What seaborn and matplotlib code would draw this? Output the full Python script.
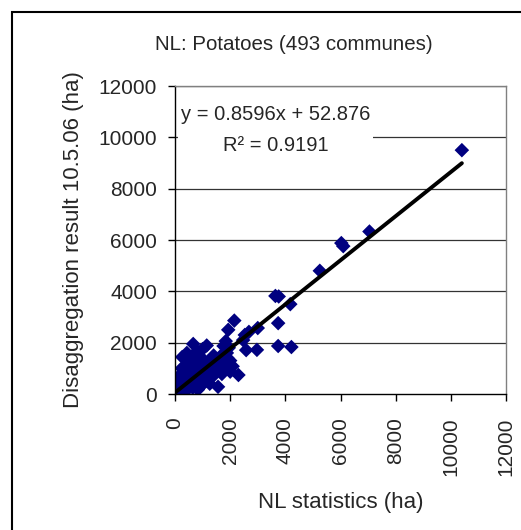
import numpy as np
import pandas as pd
import matplotlib
matplotlib.use("Agg")
import matplotlib.pyplot as plt
import seaborn as sns
from matplotlib.patches import Rectangle

# NL statistics (ha) vs disaggregation result (ha)
stat_ha = [
    10400, 7050, 6030, 6100, 5250, 3640, 3760, 4180, 3740, 3740, 4220,
    2150, 1930, 2680, 3000, 2530, 2470, 2580, 2970, 2090, 1560, 1150,
    660, 1760, 1840, 1880, 1630, 1400, 430, 260, 480, 1050, 1020, 900,
    650, 830, 180, 2300, 2000, 960, 600, 240, 120, 0,
    10, 20, 30, 40, 50, 60, 70, 80, 90, 100, 110, 120, 130, 140, 150,
    160, 170, 180, 190, 200, 210, 220, 230, 240, 250, 260, 270, 280,
    290, 300, 310, 320, 340, 350, 360, 380, 400, 410, 420, 440, 450,
    460, 480, 500, 520, 530, 550, 560, 580, 600, 620, 640, 650, 670,
    700, 720, 740, 760, 780, 800, 820, 850, 870, 900, 920, 950, 980,
    1000, 1030, 1060, 1100, 1120, 1150, 1180, 1200, 1230, 1260, 1300,
    1340, 1380, 1420, 1460, 1500, 1550, 1600, 1650, 1700, 1750, 1800,
    1850, 1900, 1950, 2000,
    5, 15, 25, 35, 45, 55, 65, 75, 85, 95, 105, 115, 125, 135, 145,
    155, 165, 175, 185, 195,
]
disagg_ha = [
    9500, 6330, 5880, 5760, 4800, 3820, 3800, 3500, 2760, 1870, 1830,
    2860, 2500, 2420, 2570, 2300, 2100, 1710, 1720, 1080, 280, 1890,
    1950, 1870, 2060, 1600, 1450, 1500, 1600, 1440, 1220, 1320, 1050, 820,
    660, 170, 660, 740, 870, 420, 290, 1000, 680, 300,
    20, 50, 10, 80, 40, 120, 60, 150, 30, 90, 200, 130, 60, 250, 170,
    110, 300, 210, 80, 350, 260, 150, 420, 190, 310, 520, 230, 400,
    120, 600, 330, 250, 480, 720, 200, 380, 850, 300, 560, 450, 950,
    180, 380, 700, 1100, 500, 350, 1300, 620, 460, 820, 1500, 250, 560,
    1000, 700, 400, 1200, 620, 900, 1650, 500, 780, 1400, 600, 1000, 350,
    1750, 750, 900, 1150, 520, 650, 950, 1250, 800, 400, 1100,
    950, 700, 1300, 1050, 880, 1200, 1000, 1350, 780, 1550, 1250,
    1050, 1400, 1800, 1300,
    5, 30, 15, 45, 25, 70, 40, 95, 60, 140, 70, 100, 180, 90, 140,
    220, 150, 120, 260, 170,
]

# Excel linear trendline shown on the chart
slope = 0.8596
intercept = 52.876
r_squared = 0.9191

ticks = [0, 2000, 4000, 6000, 8000, 10000, 12000]

df = pd.DataFrame({"stat": stat_ha, "disagg": disagg_ha})

sns.set_style("white")
plt.rcParams["font.family"] = ["Liberation Sans", "DejaVu Sans"]

fig = plt.figure(figsize=(5.21, 5.30), dpi=100)
ax = fig.add_axes([175 / 521, 1 - 394 / 530, 331 / 521, 308 / 530])

for t in ticks[1:]:
    ax.axhline(t, color="#333333", lw=0.9, zorder=0)

sns.scatterplot(data=df, x="stat", y="disagg", marker="D", s=55,
                color="#000080", edgecolor="none", linewidth=0, ax=ax, zorder=2)

x_fit = np.array([df["stat"].min(), df["stat"].max()])
sns.lineplot(x=x_fit, y=slope * x_fit + intercept, color="black", lw=2.8,
             ax=ax, zorder=3)

ax.set_xlim(0, 12000)
ax.set_ylim(0, 12000)
ax.set_xticks(ticks)
ax.set_yticks(ticks)
ax.set_xticklabels([str(t) for t in ticks], rotation=90)
ax.tick_params(axis="both", direction="out", length=5, width=1, color="black",
               labelsize=15, pad=8, bottom=True, left=True)
ax.tick_params(axis="x", pad=12)

for side in ["left", "bottom"]:
    ax.spines[side].set_color("black")
    ax.spines[side].set_linewidth(1)
for side in ["top", "right"]:
    ax.spines[side].set_color("#808080")
    ax.spines[side].set_linewidth(1)

ax.set_xlabel("NL statistics (ha)", fontsize=16, labelpad=11)
ax.set_ylabel("Disaggregation result 10.5.06 (ha)", fontsize=16, labelpad=10)

ax.text(0.305, 0.857, f"y = {slope}x + {intercept}\nR\u00b2 = {r_squared}",
        transform=ax.transAxes, ha="center", va="center", multialignment="center",
        fontsize=14.5, linespacing=1.75, zorder=2.2,
        bbox=dict(facecolor="white", edgecolor="none", pad=2))

fig.text(294 / 521, 1 - 45 / 530, "NL: Potatoes (493 communes)",
         ha="center", va="center", fontsize=14.8)

fig.add_artist(Rectangle((12 / 521, -0.1), 1.2, 1 - 12 / 530 + 0.1,
                         transform=fig.transFigure, fill=False,
                         edgecolor="black", lw=1.5))

fig.savefig("out.png", dpi=100)
